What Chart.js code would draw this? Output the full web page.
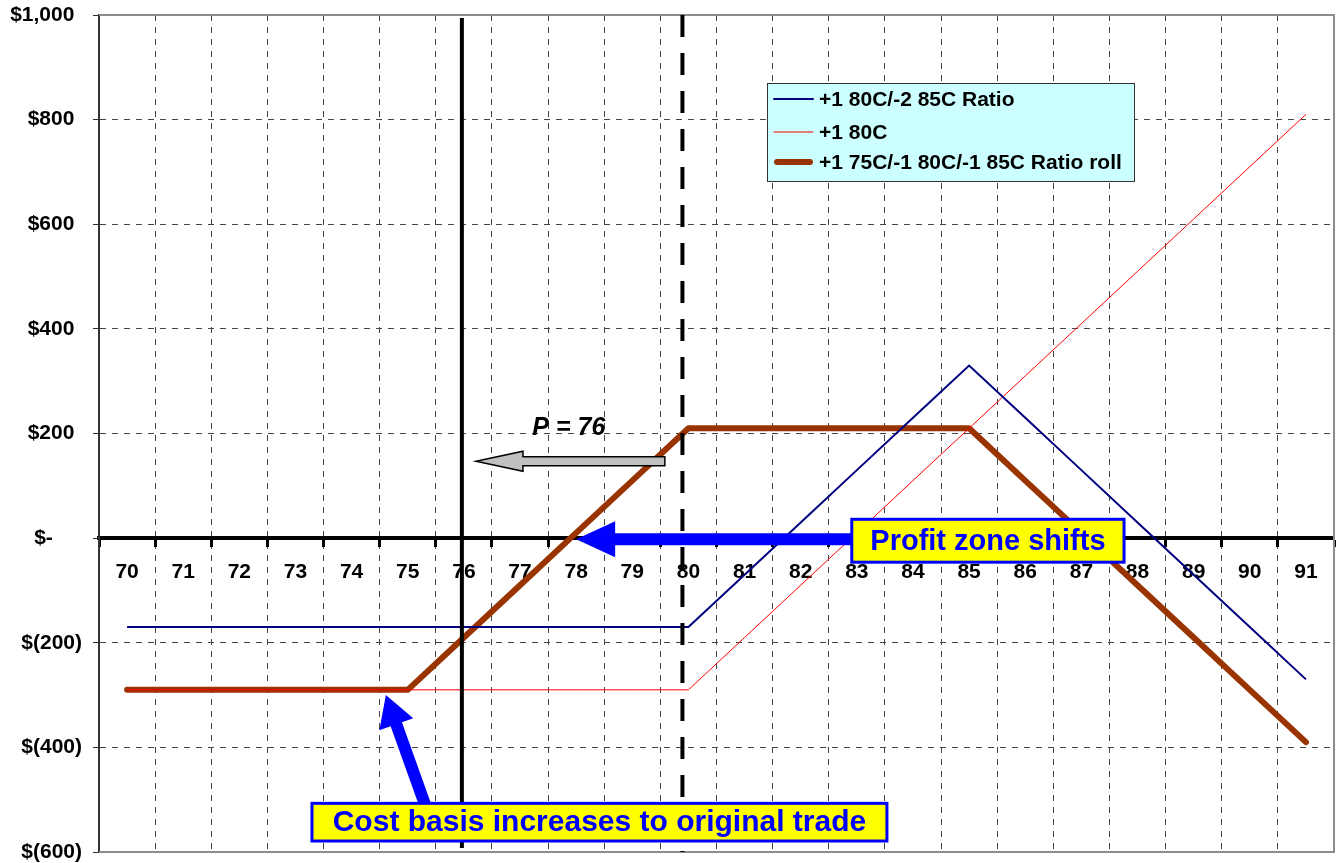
<!DOCTYPE html>
<html>
<head>
<meta charset="utf-8">
<script src="https://cdn.jsdelivr.net/npm/chart.js@4.4.1/dist/chart.umd.min.js"></script>
<style>
  html, body { margin: 0; padding: 0; background: #ffffff; }
  #wrap { width: 1340px; height: 863px; }
</style>
</head>
<body>
<div id="wrap"><canvas id="payoff" width="1340" height="863"></canvas></div>
<script>
// Underlying price at expiration
const strikes = ['70','71','72','73','74','75','76','77','78','79','80','81','82','83','84','85','86','87','88','89','90','91'];

// P&L at expiration for each position ($)
const ratioSpread = [-170,-170,-170,-170,-170,-170,-170,-170,-170,-170,-170,-70,30,130,230,330,230,130,30,-70,-170,-270];
const longCall    = [-290,-290,-290,-290,-290,-290,-290,-290,-290,-290,-290,-190,-90,10,110,210,310,410,510,610,710,810];
const ratioRoll   = [-290,-290,-290,-290,-290,-290,-190,-90,10,110,210,210,210,210,210,210,110,10,-90,-190,-290,-390];

const seriesNames = ['+1 80C/-2 85C Ratio', '+1 80C', '+1 75C/-1 80C/-1 85C Ratio roll'];

// Y axis ticks
const yTicks = [1000, 800, 600, 400, 200, 0, -200, -400, -600];

// Reference prices marked with vertical lines
const currentPrice = '76';
const originalStrike = '80';

const FONT = "'Liberation Sans', Arial, sans-serif";

// Accounting-style dollar format (positives leave room for the closing parenthesis)
function money(v) {
  if (v === 0) return '$-     ';
  const s = Math.abs(v).toLocaleString('en-US');
  return v < 0 ? '$(' + s + ')' : '$' + s + ' \u200A';
}

function blockArrow(ctx, tail, tip, shaftHalf, headLen, headHalf, fill, stroke) {
  const dx = tip.x - tail.x, dy = tip.y - tail.y;
  const len = Math.hypot(dx, dy);
  ctx.save();
  ctx.translate(tail.x, tail.y);
  ctx.rotate(Math.atan2(dy, dx));
  ctx.beginPath();
  ctx.moveTo(0, -shaftHalf);
  ctx.lineTo(len - headLen, -shaftHalf);
  ctx.lineTo(len - headLen, -headHalf);
  ctx.lineTo(len, 0);
  ctx.lineTo(len - headLen, headHalf);
  ctx.lineTo(len - headLen, shaftHalf);
  ctx.lineTo(0, shaftHalf);
  ctx.closePath();
  ctx.fillStyle = fill;
  ctx.fill();
  if (stroke) {
    ctx.lineWidth = 1.5;
    ctx.strokeStyle = stroke;
    ctx.lineJoin = 'miter';
    ctx.stroke();
  }
  ctx.restore();
}

function calloutBox(ctx, x1, y1, x2, y2, text, size) {
  ctx.save();
  ctx.fillStyle = '#ffff00';
  ctx.fillRect(x1, y1, x2 - x1, y2 - y1);
  ctx.lineWidth = 3;
  ctx.strokeStyle = '#0000ff';
  ctx.strokeRect(x1, y1, x2 - x1, y2 - y1);
  ctx.fillStyle = '#0000ff';
  ctx.font = 'bold ' + size + 'px ' + FONT;
  ctx.textAlign = 'center';
  ctx.textBaseline = 'middle';
  ctx.fillText(text, (x1 + x2) / 2, (y1 + y2) / 2 + 1);
  ctx.restore();
}

// Plot frame, price markers, arrows, callouts and legend
const overlayPlugin = {
  id: 'overlay',
  afterDatasetsDraw(chart) {
    const { ctx, chartArea: ca, scales: { x, y } } = chart;
    const px = (i) => x.getPixelForValue(i);
    const py = (v) => y.getPixelForValue(v);

    // frame
    ctx.save();
    ctx.strokeStyle = '#8c8c8c';
    ctx.lineWidth = 2;
    ctx.beginPath();
    ctx.moveTo(ca.left, ca.top);
    ctx.lineTo(ca.right, ca.top);
    ctx.lineTo(ca.right, ca.bottom);
    ctx.lineTo(ca.left, ca.bottom);
    ctx.stroke();
    ctx.restore();

    // current price (solid) and original strike (dashed)
    ctx.save();
    ctx.strokeStyle = '#000000';
    ctx.lineWidth = 4;
    const xc = px(strikes.indexOf(currentPrice)) - 2;
    ctx.beginPath();
    ctx.moveTo(xc, ca.top + 3);
    ctx.lineTo(xc, ca.bottom - 4);
    ctx.stroke();
    const xs = px(strikes.indexOf(originalStrike)) - 6;
    ctx.setLineDash([22, 16]);
    ctx.beginPath();
    ctx.moveTo(xs, ca.top);
    ctx.lineTo(xs, ca.bottom);
    ctx.stroke();
    ctx.restore();

    // price label and arrow
    ctx.save();
    ctx.fillStyle = '#000000';
    ctx.font = 'italic bold 25px ' + FONT;
    ctx.textAlign = 'center';
    ctx.textBaseline = 'middle';
    ctx.fillText('P = 76', px(7.87), py(210));
    ctx.restore();
    blockArrow(ctx, { x: px(9.58), y: py(147) }, { x: px(6.215), y: py(147) }, 4.5, 47, 10, '#c0c0c0', '#000000');

    // profit zone arrow and callout
    blockArrow(ctx, { x: px(13.5), y: py(-2) }, { x: px(8.0), y: py(-2) }, 6, 39, 18, '#0000ff', null);
    calloutBox(ctx, px(12.91), py(36), px(17.76), py(-46), 'Profit zone shifts', 29);

    // cost basis arrow and callout
    blockArrow(ctx, { x: px(5.31), y: py(-510) }, { x: px(4.61), y: py(-300) }, 6, 31, 18, '#0000ff', null);
    calloutBox(ctx, px(3.294), py(-507), px(13.536), py(-579), 'Cost basis increases to original trade', 30);

    // legend
    const lx = ca.left + 668, ly = ca.top + 68, lw = 367, lh = 98;
    ctx.save();
    ctx.fillStyle = '#ccffff';
    ctx.fillRect(lx, ly, lw, lh);
    ctx.strokeStyle = '#333333';
    ctx.lineWidth = 1;
    ctx.strokeRect(lx + 0.5, ly + 0.5, lw, lh);
    const rows = [16, 49, 79];
    chart.data.datasets.forEach((ds, i) => {
      const ry = ly + rows[i];
      ctx.strokeStyle = ds.borderColor;
      ctx.lineWidth = ds.borderWidth;
      ctx.lineCap = 'round';
      ctx.beginPath();
      ctx.moveTo(lx + 7 + (ds.borderWidth > 3 ? 3 : 0), ry);
      ctx.lineTo(lx + 46 - (ds.borderWidth > 3 ? 3 : 0), ry);
      ctx.stroke();
      ctx.fillStyle = '#000000';
      ctx.font = 'bold 21px ' + FONT;
      ctx.textAlign = 'left';
      ctx.textBaseline = 'middle';
      ctx.fillText(ds.label, lx + 52, ry + 1);
    });
    ctx.restore();
  }
};

const bgPlugin = {
  id: 'bg',
  beforeDraw(chart) {
    const ctx = chart.ctx;
    ctx.save();
    ctx.fillStyle = '#ffffff';
    ctx.fillRect(0, 0, chart.width, chart.height);
    ctx.restore();
  }
};

new Chart(document.getElementById('payoff'), {
  type: 'line',
  data: {
    labels: strikes,
    datasets: [
      { label: seriesNames[0], data: ratioSpread, borderColor: '#000080', borderWidth: 2, pointRadius: 0, tension: 0 },
      { label: seriesNames[1], data: longCall, borderColor: '#ff0000', borderWidth: 1, pointRadius: 0, tension: 0 },
      { label: seriesNames[2], data: ratioRoll, borderColor: '#993300', borderWidth: 6, pointRadius: 0, tension: 0,
        borderCapStyle: 'round', borderJoinStyle: 'round' }
    ]
  },
  options: {
    responsive: false,
    devicePixelRatio: 1,
    animation: false,
    layout: { padding: { top: 15, right: 6, bottom: 11, left: 0 } },
    plugins: { legend: { display: false }, tooltip: { enabled: false } },
    scales: {
      x: {
        type: 'category',
        position: { y: 0 },
        offset: true,
        grid: {
          offset: true,
          color: '#444444',
          lineWidth: 1,
          drawTicks: true,
          tickLength: 7,
          tickColor: '#000000',
          tickWidth: 3,
          tickBorderDash: []
        },
        border: { display: true, color: '#000000', width: 4, dash: [6, 6] },
        ticks: {
          color: '#000000',
          font: { family: FONT, size: 21, weight: 'bold' },
          padding: 14,
          maxRotation: 0,
          autoSkip: false
        }
      },
      y: {
        min: -600,
        max: 1000,
        afterBuildTicks(scale) { scale.ticks = yTicks.map(v => ({ value: v })); },
        afterFit(scale) {
          scale.width = 99;
          scale.paddingTop = 0;
          scale.paddingBottom = 0;
        },
        grid: {
          color: '#444444',
          lineWidth: 1,
          tickLength: 6,
          tickColor: '#333333',
          tickWidth: 1,
          tickBorderDash: []
        },
        border: { display: true, color: '#333333', width: 2, dash: [6, 6] },
        ticks: {
          color: '#000000',
          font: { family: FONT, size: 21, weight: 'bold' },
          padding: 11,
          callback: (v) => money(v)
        }
      }
    }
  },
  plugins: [bgPlugin, overlayPlugin]
});
</script>
</body>
</html>
